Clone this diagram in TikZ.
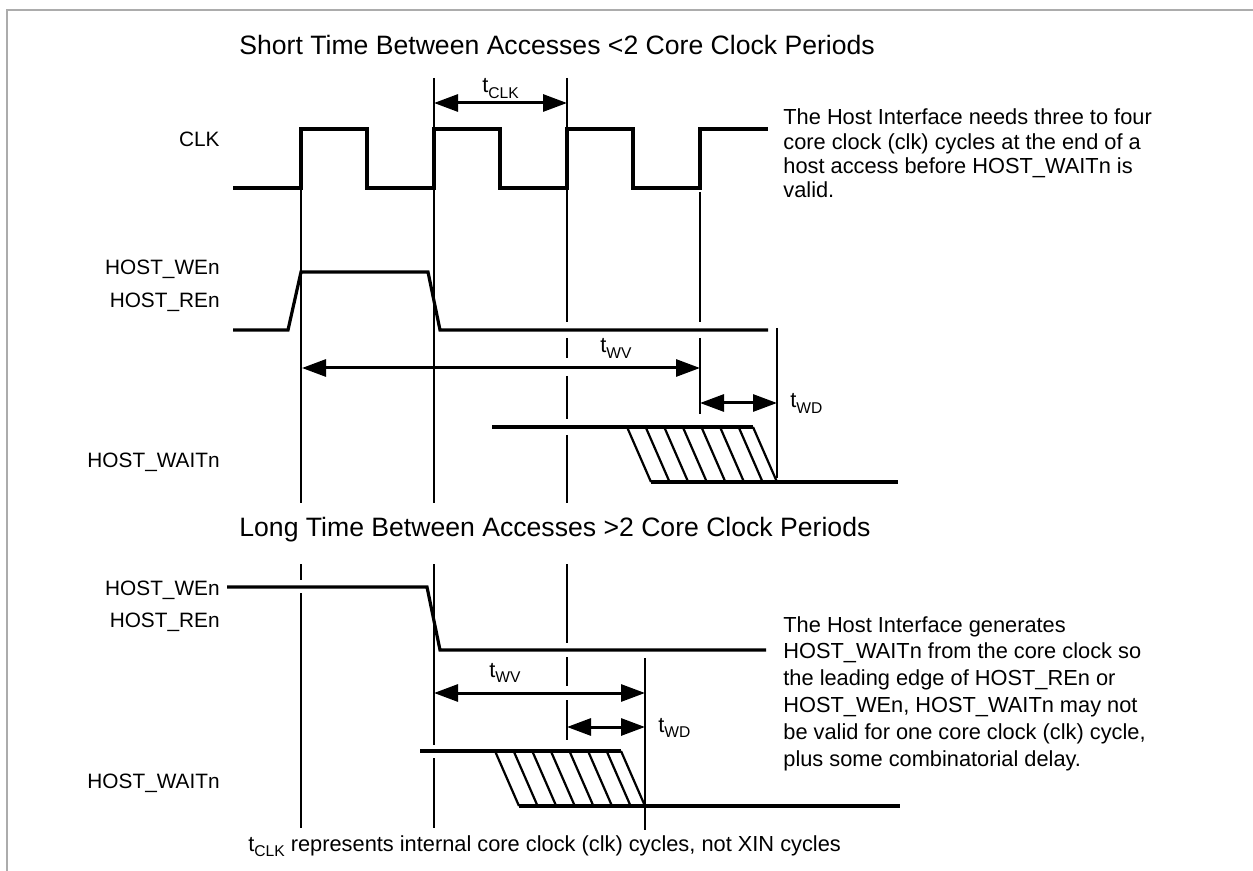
\documentclass[tikz,border=0pt]{standalone}
\usepackage{fontspec}
\setmainfont{Liberation Sans}
\usetikzlibrary{arrows.meta}
\newcommand{\tsub}[1]{t\raisebox{-2.6pt}{\fontsize{7.8}{9}\selectfont #1}}

\begin{document}
\begin{tikzpicture}[x=0.5pt,y=-0.5pt,line join=miter,>={Triangle[length=12pt,width=8.5pt]}]
\tikzset{wave/.style={line width=1.6pt},
  guide/.style={line width=1pt},
  dim/.style={<->,line width=1.5pt},
  hatch/.style={line width=1.1pt},
  sig/.style={font=\fontsize{10.4}{12}\selectfont,anchor=base east,inner sep=0pt},
  note/.style={font=\fontsize{10.9}{12}\selectfont,anchor=base west,inner sep=0pt},
  ttl/.style={font=\fontsize{13.3}{16}\selectfont,anchor=base west,inner sep=0pt}}
\useasboundingbox (0,0) rectangle (1253,871);
\draw[gray!65,line width=1pt] (7,871)--(7,10)--(1253,10);
% titles
\node[ttl] (short) at (239,55) {Short Time Between Accesses <2 Core Clock Periods};
\node[ttl] (long) at (239,537) {Long Time Between Accesses >2 Core Clock Periods};
% signal names
\node[sig] (clk) at (220,147) {CLK};
\node[sig] (we1) at (220,275) {HOST\_WEn};
\node[sig] (re1) at (220,308) {HOST\_REn};
\node[sig] (wait1) at (220,467) {HOST\_WAITn};
\node[sig] (we2) at (220,595) {HOST\_WEn};
\node[sig] (re2) at (220,627) {HOST\_REn};
\node[sig] (wait2) at (220,788) {HOST\_WAITn};
% guide lines
\draw[guide] (301,188)--(301,503) (301,564)--(301,580) (301,593)--(301,828);
\draw[guide] (434,78)--(434,503) (434,564)--(434,745) (434,758)--(434,828);
\draw[guide] (567,78)--(567,322) (567,338)--(567,358) (567,376)--(567,419) (567,435)--(567,503);
\draw[guide] (567,564)--(567,643) (567,657)--(567,686) (567,700)--(567,740);
\draw[guide] (700,192)--(700,322) (700,338)--(700,414);
\draw[guide] (777,328)--(777,478);
\draw[guide] (645,658)--(645,830);
% waveforms, short time
\draw[wave] (233,188)--(301,188)--(301,129)--(367,129)--(367,188)--(434,188)--(434,129)--(500,129)--(500,188)
  --(567,188)--(567,129)--(633,129)--(633,188)--(700,188)--(700,129)--(768,129);
\draw[wave] (233,330)--(288,330)--(301,272)--(428,272)--(440,330)--(768,330);
\draw[wave] (492,427)--(753,427);
\draw[wave] (651,482)--(898,482);
\foreach \k in {0,...,6}
  \draw[hatch] ({627+18.6*\k},427)--++(24,55);
\draw[hatch] (753,427)--(777,482);
% waveforms, long time
\draw[wave] (227,587)--(427,587)--(440,650)--(766,650);
\draw[wave] (420,751)--(621,751);
\draw[wave] (519,806)--(900,806);
\foreach \k in {0,...,6}
  \draw[hatch] ({495+18.6*\k},751)--++(24,55);
\draw[hatch] (621,751)--(645,806);
% timing arrows
\coordinate (clkA) at (434,103); \coordinate (clkB) at (567,103);
\coordinate (wvA) at (302,368); \coordinate (wvB) at (700,368);
\coordinate (wdA) at (700,403); \coordinate (wdB) at (777,403);
\coordinate (wvC) at (434,693); \coordinate (wvD) at (645,693);
\coordinate (wdC) at (567,727); \coordinate (wdD) at (645,727);
\draw[dim] (clkA)--(clkB);
\draw[dim] (wvA)--(wvB);
\draw[dim] (wdA)--(wdB);
\draw[dim] (wvC)--(wvD);
\draw[dim] (wdC)--(wdD);
\node[note] (tclk) at (482,93) {\tsub{CLK}};
\node[note] (twv1) at (600,353) {\tsub{WV}};
\node[note] (twd1) at (790,408) {\tsub{WD}};
\node[note] (twv2) at (489,677) {\tsub{WV}};
\node[note] (twd2) at (658,732) {\tsub{WD}};
% notes
\foreach \txt [count=\i] in {{The Host Interface needs three to four},{core clock (clk) cycles at the end of a},
  {host access before HOST\_WAITn is},{valid.}}
  \node[note] (noteA\i) at (783,{125+24.3*(\i-1)}) {\txt};
\foreach \txt [count=\i] in {{The Host Interface generates},{HOST\_WAITn from the core clock so},
  {the leading edge of HOST\_REn or},{HOST\_WEn, HOST\_WAITn may not},
  {be valid for one core clock (clk) cycle,},{plus some combinatorial delay.}}
  \node[note] (noteB\i) at (783,{632+26.8*(\i-1)}) {\txt};
\node[note] (caption) at (248,851) {\tsub{CLK} represents internal core clock (clk) cycles, not XIN cycles};
\end{tikzpicture}
\end{document}
